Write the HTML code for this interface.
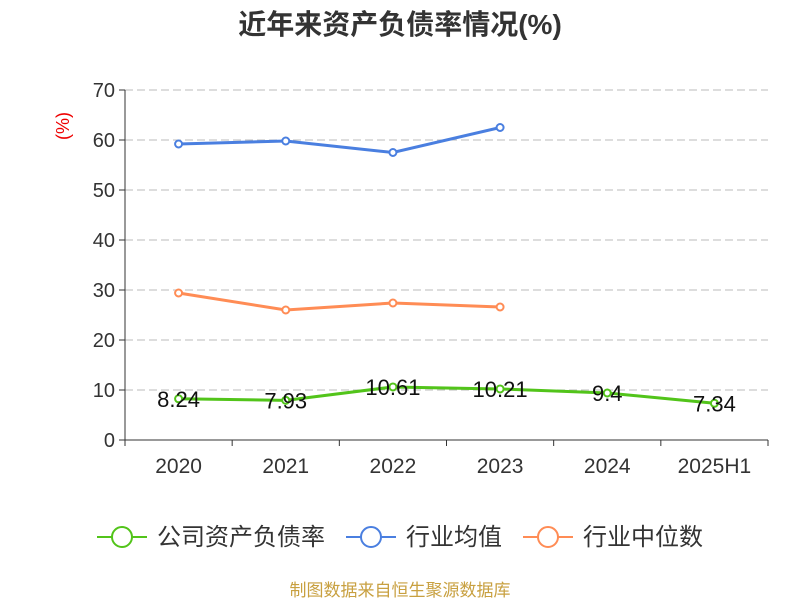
<!DOCTYPE html>
<html><head><meta charset="utf-8"><style>
body{margin:0;background:#fff;font-family:"Liberation Sans","Noto Sans CJK SC",sans-serif;}
</style></head><body>
<svg width="800" height="600" xmlns="http://www.w3.org/2000/svg" font-family="Liberation Sans, Noto Sans CJK SC, sans-serif">
<text x="400" y="34" text-anchor="middle" font-size="28" font-weight="bold" fill="#333">近年来资产负债率情况(%)</text>
<text transform="translate(69,126) rotate(-90)" text-anchor="middle" font-size="18" fill="#e00">(%)</text>
<g id="grid"></g><g id="axes"></g><g id="series"></g>
<g>
<g><line x1="97" y1="537" x2="147" y2="537" stroke="#52c41a" stroke-width="2"/><circle cx="122" cy="537" r="10" fill="#fff" stroke="#52c41a" stroke-width="2"/><text x="157" y="545" font-size="24" fill="#333">公司资产负债率</text></g>
<g><line x1="346" y1="537" x2="396" y2="537" stroke="#4a7fe0" stroke-width="2"/><circle cx="371" cy="537" r="10" fill="#fff" stroke="#4a7fe0" stroke-width="2"/><text x="406" y="545" font-size="24" fill="#333">行业均值</text></g>
<g><line x1="523" y1="537" x2="573" y2="537" stroke="#ff8c55" stroke-width="2"/><circle cx="548" cy="537" r="10" fill="#fff" stroke="#ff8c55" stroke-width="2"/><text x="583" y="545" font-size="24" fill="#333">行业中位数</text></g>
</g>
<text x="400" y="596" text-anchor="middle" font-size="17" fill="#c8a040">制图数据来自恒生聚源数据库</text>
</svg>
<script>
const categories=["2020","2021","2022","2023","2024","2025H1"];
const companyValues=[8.24,7.93,10.61,10.21,9.4,7.34];
const companyLabels=["8.24","7.93","10.61","10.21","9.4","7.34"];
const avgValues=[59.2,59.8,57.5,62.5];
const medianValues=[29.4,26.0,27.4,26.6];
const yTicks=[0,10,20,30,40,50,60,70];
const NS="http://www.w3.org/2000/svg";
const L=125,R=768,T=90,B=440,YMAX=70;
const bw=(R-L)/categories.length;
const xs=i=>L+bw*(i+0.5);
const ys=v=>B-(v/YMAX)*(B-T);
function mk(tag,attrs,parent){const e=document.createElementNS(NS,tag);for(const k in attrs)e.setAttribute(k,attrs[k]);parent.appendChild(e);return e;}
const grid=document.getElementById('grid'),axes=document.getElementById('axes'),ser=document.getElementById('series');
yTicks.forEach(t=>{
 if(t>0){const g=mk('line',{x1:L,x2:R,y1:ys(t),y2:ys(t),stroke:'#bbb','stroke-dasharray':'8,4'},grid);
 
 }
 const tk=mk('line',{x1:L-6,x2:L,y1:ys(t),y2:ys(t),stroke:'#333'},axes);
 
 
 const tx=mk('text',{x:L-10,y:ys(t)+7,'text-anchor':'end','font-size':20,fill:'#333'},axes);tx.textContent=t;
 
 
});
const ya=mk('line',{x1:L,x2:L,y1:T,y2:B,stroke:'#333'},axes);


const xa=mk('line',{x1:L,x2:R,y1:B,y2:B,stroke:'#333'},axes);


for(let i=0;i<=categories.length;i++){const tk=mk('line',{x1:L+bw*i,x2:L+bw*i,y1:B,y2:B+6,stroke:'#333'},axes);
 
 }
categories.forEach((c,i)=>{const tx=mk('text',{x:xs(i),y:B+33,'text-anchor':'middle','font-size':21,fill:'#333'},axes);tx.textContent=c;
 
 });
function line(vals,color,name){
 const g=mk('g',{},ser);
 
 
 mk('polyline',{points:vals.map((v,i)=>xs(i)+','+ys(v)).join(' '),fill:'none',stroke:color,'stroke-width':3},g);
 vals.forEach((v,i)=>{const p=mk('circle',{cx:xs(i),cy:ys(v),r:3.5,fill:'#fff',stroke:color,'stroke-width':2},g);
 
 });
 return g;
}
line(avgValues,'#4a7fe0','industry-avg-line');
line(medianValues,'#ff8c55','industry-median-line');
const cg=line(companyValues,'#52c41a','company-line');
companyValues.forEach((v,i)=>{const tx=mk('text',{x:xs(i),y:ys(v)+8,'text-anchor':'middle','font-size':22,fill:'#111'},cg);tx.textContent=companyLabels[i];
 
 });
</script>
</body></html>
